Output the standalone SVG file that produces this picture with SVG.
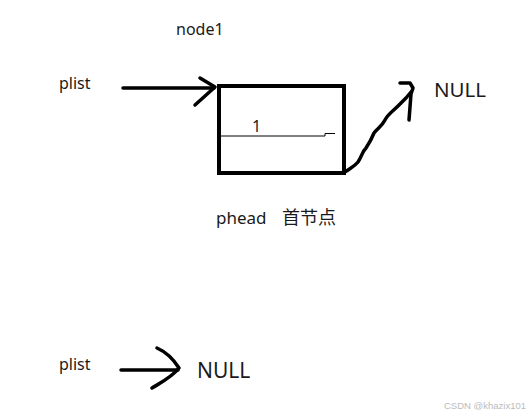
<svg xmlns="http://www.w3.org/2000/svg" width="527" height="417" viewBox="0 0 527 417">
<style>
.t{font-family:"Noto Sans","Noto Sans CJK SC",sans-serif;fill:#1a1a1a;}
.ink{fill:none;stroke:#000;stroke-width:3.5;stroke-linecap:round;stroke-linejoin:round;}
</style>
<rect width="527" height="417" fill="#fff"/>
<g id="labels">
<text class="t" x="176" y="35" font-size="16">node1</text>
<text class="t" x="59" y="89" font-size="16">plist</text>
<text class="t" x="434" y="97" font-size="20.5">NULL</text>
<text class="t" x="216" y="224" font-size="17">phead</text>
<text class="t" x="282" y="224" font-size="18" font-family="Noto Sans CJK SC,sans-serif">首节点</text>
<text class="t" x="59" y="370" font-size="16">plist</text>
<text class="t" x="197" y="378" font-size="21">NULL</text>
<text x="444" y="409" font-size="9.5" font-family="Liberation Sans,sans-serif" fill="#bbb">CSDN @khazix101</text>
</g>
<g id="node1">
<rect x="219" y="86" width="125" height="87" fill="none" stroke="#000" stroke-width="4"/>
<path d="M221 136 H325 V133.5 H335" fill="none" stroke="#000" stroke-width="1"/>
<text class="t" x="252" y="132" font-size="16">1</text>
</g>
<g id="connectors">
<path class="ink" d="M123 88 H214"/>
<path class="ink" d="M200 78 L215 87 L195 105"/>
<path class="ink" d="M345 172 C350 168 354 167 358 162 C362 156 362 152 366 148 C370 142 372 138 374 133 C378 128 382 126 385 120 C388 114 392 112 398 106 C402 102 404 100 406 98 L411 92"/>
<path class="ink" d="M400 83 L410 83 L413 88 L411 94 L409 120"/>
<path class="ink" d="M121 370 H178"/>
<path class="ink" d="M157 348 C166 352 174 360 179 368 C172 377 162 382 152 388"/>
</g>
</svg>
